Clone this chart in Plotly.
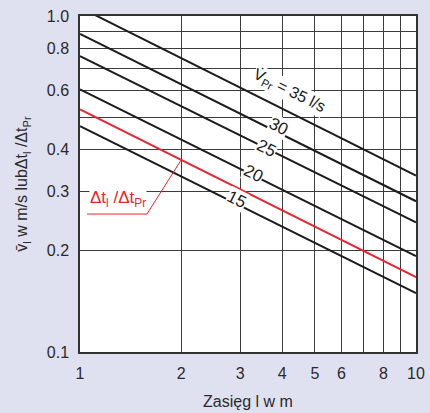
import math
import plotly.graph_objects as go

# Range l (m) at which each straight log-log line is sampled
distance_m = [1, 10]

# Mean velocity lines for the supply flow rates (l/s)
flow_rates = [35, 30, 25, 20, 15]
velocity_at_1m = [1.06, 0.885, 0.76, 0.605, 0.47]
velocity_at_10m = [0.335, 0.281, 0.243, 0.193, 0.1496]

# Temperature-difference ratio line
ratio_at_1m = 0.527
ratio_at_10m = 0.167

# Axis ticks
x_tick_vals = [1, 2, 3, 4, 5, 6, 7, 8, 9, 10]
x_tick_text = ["1", "2", "3", "4", "5", "6", "", "8", "", "10"]
y_tick_vals = [0.1, 0.2, 0.3, 0.4, 0.5, 0.6, 0.7, 0.8, 0.9, 1.0]
y_tick_text = ["0.1", "0.2", "0.3", "0.4", "", "0.6", "", "0.8", "", "1.0"]

FONT = "Liberation Sans, Arial, Helvetica, sans-serif"
BG = "#dfe1f1"
RED = "#e8262d"
INK = "#1c1c1c"

fig = go.Figure()

for q, v1, v10 in zip(flow_rates, velocity_at_1m, velocity_at_10m):
    fig.add_trace(go.Scatter(
        x=distance_m, y=[v1, v10], mode="lines",
        line=dict(color=INK, width=2), name=f"{q} l/s", hoverinfo="skip"))

fig.add_trace(go.Scatter(
    x=distance_m, y=[ratio_at_1m, ratio_at_10m], mode="lines",
    line=dict(color=RED, width=2), name="ratio", hoverinfo="skip"))

# Leader from the red label to the ratio line at l = 2 m
lx = 2.0
t = math.log10(lx) / (math.log10(distance_m[1]) - math.log10(distance_m[0]))
ly = 10 ** (math.log10(ratio_at_1m) + t * (math.log10(ratio_at_10m) - math.log10(ratio_at_1m)))
under_y = 0.2574
fig.add_trace(go.Scatter(
    x=[1.049, 1.582, lx], y=[under_y, under_y, ly], mode="lines",
    line=dict(color=RED, width=1), hoverinfo="skip"))


def ann(text, x, y, angle, color=INK, size=16):
    fig.add_annotation(
        text=text, x=math.log10(x), y=math.log10(y), xref="x", yref="y",
        showarrow=False, textangle=angle, bgcolor="white", borderpad=0,
        font=dict(family=FONT, size=size, color=color))


ann("V\u0307<sub>Pr</sub> = 35 l/s", 4.19, 0.598, 26.5)
ann("30", 3.89, 0.468, 26.5, size=17)
ann("25", 3.595, 0.404, 26.5, size=17)
ann("20", 3.28, 0.340, 26.5, size=17)
ann("15", 2.927, 0.2834, 26.5, size=17)
ann("\u0394t<sub>l</sub> /\u0394t<sub>Pr</sub>", 1.293, 0.2853, 0, color=RED, size=17)

axis_common = dict(
    type="log", showgrid=True, gridcolor="#3c3c3c", gridwidth=1,
    showline=True, linecolor="#333333", linewidth=1.5, mirror=True,
    zeroline=False, ticks="outside", ticklen=6, tickcolor=BG,
    automargin=False,
    tickfont=dict(family=FONT, size=16, color="#2a2a2a"),
)

fig.update_layout(
    width=430, height=413,
    margin=dict(l=80, r=14, t=16, b=61),
    paper_bgcolor=BG, plot_bgcolor="white",
    showlegend=False,
    xaxis=dict(axis_common, range=[0, 1], tickvals=x_tick_vals, ticktext=x_tick_text,
               title=dict(text="Zasięg l w m",
                          font=dict(family=FONT, size=16, color="#2a2a2a"))),
    yaxis=dict(axis_common, range=[-1, 0], tickvals=y_tick_vals, ticktext=y_tick_text,
               title=dict(text="v\u0304<sub>l</sub> w m/s lub\u0394t<sub>l</sub> /\u0394t<sub>Pr</sub>",
                          font=dict(family=FONT, size=16, color="#2a2a2a"))),
)

fig.write_html("out.html")
